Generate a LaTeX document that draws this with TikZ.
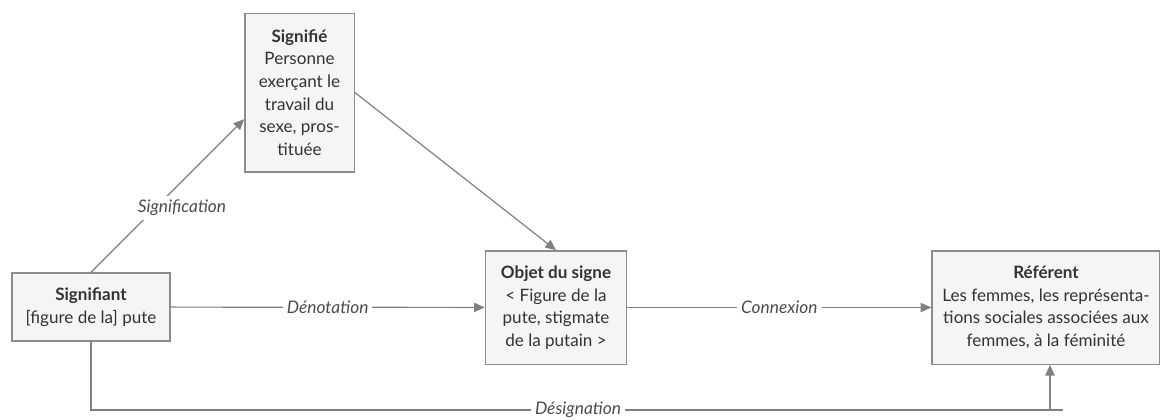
\documentclass[tikz,border=0pt]{standalone}
\usepackage{fontspec}
\setmainfont{Lato}
\usetikzlibrary{arrows.meta}
\begin{document}
\begin{tikzpicture}[
      x=0.75pt, y=-0.75pt,
      box/.style={rectangle, draw=black!45, fill=black!4, line width=1pt, align=center,
          text=black!80, inner sep=2pt, font=\fontsize{12.8}{17}\selectfont},
      arr/.style={line width=0.9pt, draw=black!50, -{Triangle[length=8pt, width=7pt]}},
      lbl/.style={fill=white, text=black!70, inner sep=3pt, font=\fontsize{13}{15}\selectfont\itshape}
    ]
    \useasboundingbox (0,0) rectangle (1160,419);
    \node[box, minimum width=118.5pt, minimum height=51pt] (sgt) at (91,307) {\textbf{Signifiant}\\{}[figure de la] pute};
    \node[box, minimum width=82pt, minimum height=119pt] (sfe) at (299.5,92.5) {\textbf{Signifié}\\Personne\\exerçant le\\travail du\\sexe, pros-\\tituée};
    \node[box, minimum width=106pt, minimum height=85pt] (obj) at (556,307.5) {\textbf{Objet du signe}\\< Figure de la\\pute, stigmate\\de la putain >};
    \node[box, minimum width=171pt, minimum height=85pt] (ref) at (1046,307.5) {\textbf{Référent}\\Les femmes, les représenta-\\tions sociales associées aux\\femmes, à la féminité};
    \coordinate (dend) at (1063,410);

    \draw[arr] (sgt.north) -- ([yshift=-20pt]sfe.west) node[lbl, pos=0.42, xshift=20pt] {Signification};
    \draw[arr] (sfe.east) -- (obj.north);
    \draw[arr] (sgt) -- (obj) node[lbl, midway] {Dénotation};
    \draw[arr] (obj) -- (ref) node[lbl, midway] {Connexion};
    \draw[line width=0.9pt, draw=black!50] (sgt.south) |- (dend);
    \draw[arr] ([xshift=3pt]ref.south |- dend) -- ([xshift=3pt]ref.south);
    \node[lbl] (desig) at (578,410) {Désignation};
  \end{tikzpicture}
\end{document}
